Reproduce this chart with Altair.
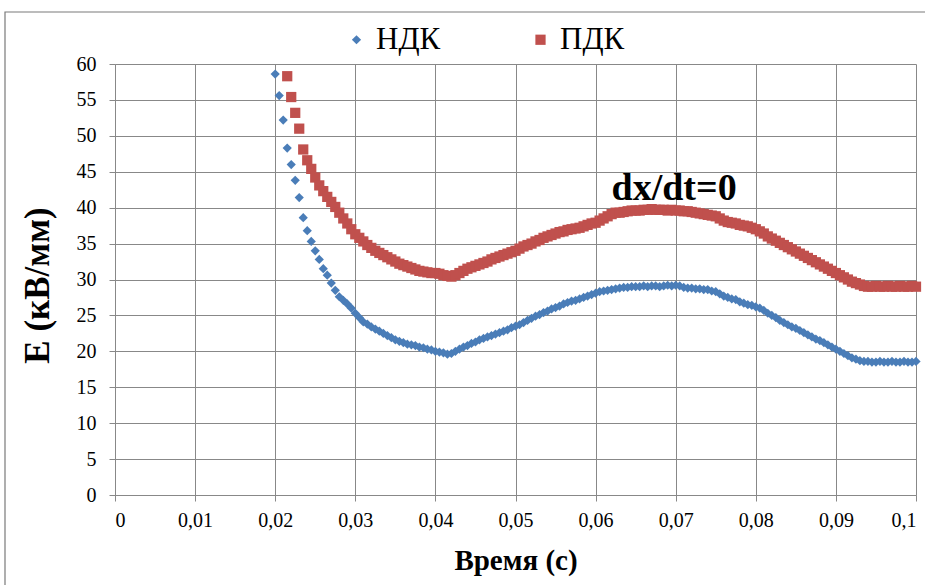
import altair as alt
import numpy as np
import pandas as pd

# Sampling times, s (0.5 ms step)
t_ndk = np.round(np.arange(0.0200, 0.10001, 0.0005), 4)
t_pdk = np.round(np.arange(0.0215, 0.10001, 0.0005), 4)

# Field strength E, kV/mm
e_ndk = [
    58.6, 55.6, 52.2, 48.3, 46.0, 43.8, 41.4, 38.6, 36.8, 35.3,
    34.0, 32.8, 31.5, 30.6, 29.5, 28.5, 27.6, 27.1, 26.6, 26.0,
    25.3, 24.7, 24.1, 23.8, 23.4, 23.1, 22.8, 22.5, 22.2, 21.9,
    21.6, 21.4, 21.2, 21.0, 20.9, 20.8, 20.6, 20.5, 20.3, 20.2,
    20.0, 19.9, 19.8, 19.6, 19.7, 20.0, 20.3, 20.6, 20.8, 21.1,
    21.3, 21.6, 21.8, 22.0, 22.2, 22.4, 22.6, 22.8, 23.0, 23.3,
    23.5, 23.7, 24.0, 24.3, 24.6, 24.9, 25.1, 25.4, 25.6, 25.9,
    26.1, 26.3, 26.6, 26.8, 27.0, 27.1, 27.3, 27.5, 27.7, 27.9,
    28.1, 28.3, 28.4, 28.5, 28.6, 28.7, 28.8, 28.9, 28.9, 29.0,
    29.0, 29.0, 29.1, 29.0, 29.1, 29.1, 29.0, 29.1, 29.2, 29.1,
    29.2, 29.1, 28.9, 28.8, 28.8, 28.7, 28.7, 28.6, 28.6, 28.4,
    28.3, 28.0, 27.7, 27.5, 27.3, 27.2, 26.9, 26.7, 26.5, 26.4,
    26.2, 26.0, 25.7, 25.3, 25.0, 24.7, 24.3, 24.0, 23.7, 23.4,
    23.2, 22.9, 22.6, 22.3, 22.0, 21.7, 21.5, 21.2, 20.9, 20.6,
    20.3, 20.0, 19.7, 19.4, 19.1, 18.9, 18.7, 18.6, 18.6, 18.5,
    18.5, 18.6, 18.5, 18.5, 18.6, 18.5, 18.5, 18.6, 18.5, 18.5,
    18.6,
]
e_pdk = [
    58.3, 55.4, 53.2, 51.0, 48.1, 46.6, 45.4, 44.2, 43.1, 42.3,
    41.5, 40.8, 40.1, 39.3, 38.5, 37.8, 37.0, 36.3, 35.8, 35.3,
    34.8, 34.4, 34.0, 33.7, 33.4, 33.1, 32.8, 32.5, 32.2, 32.0,
    31.8, 31.6, 31.4, 31.2, 31.1, 31.0, 30.9, 30.9, 30.8, 30.6,
    30.5, 30.4, 30.6, 30.9, 31.2, 31.5, 31.7, 31.9, 32.1, 32.3,
    32.5, 32.8, 33.0, 33.2, 33.4, 33.6, 33.8, 34.0, 34.3, 34.6,
    34.8, 35.0, 35.3, 35.5, 35.8, 36.0, 36.2, 36.4, 36.6, 36.7,
    36.9, 37.0, 37.1, 37.2, 37.4, 37.6, 37.8, 37.9, 38.2, 38.5,
    38.8, 39.1, 39.3, 39.3, 39.4, 39.5, 39.6, 39.6, 39.6, 39.7,
    39.7, 39.8, 39.7, 39.7, 39.7, 39.6, 39.7, 39.6, 39.6, 39.5,
    39.5, 39.4, 39.3, 39.2, 39.1, 39.0, 38.9, 38.8, 38.5, 38.2,
    38.0, 37.9, 37.8, 37.6, 37.5, 37.4, 37.2, 37.0, 36.7, 36.4,
    36.0, 35.7, 35.4, 35.1, 34.8, 34.5, 34.2, 33.9, 33.6, 33.3,
    33.0, 32.7, 32.4, 32.1, 31.8, 31.5, 31.2, 30.9, 30.6, 30.3,
    30.0, 29.7, 29.5, 29.3, 29.1, 29.0, 29.0, 29.1, 29.0, 29.0,
    29.1, 29.0, 29.0, 29.1, 29.0, 29.0, 29.1, 29.0,
]
assert len(t_ndk) == len(e_ndk) and len(t_pdk) == len(e_pdk)

series_names = ["НДК", "ПДК"]
series_colors = ["#4A7DB8", "#C0504D"]
series_shapes = ["diamond", "square"]
series_sizes = [85, 105]

x_ticks = [0, 0.01, 0.02, 0.03, 0.04, 0.05, 0.06, 0.07, 0.08, 0.09, 0.1]
y_ticks = [0, 5, 10, 15, 20, 25, 30, 35, 40, 45, 50, 55, 60]

note_t = [0.0698]
note_e = [41.0]
note_text = ["dx/dt=0"]

df = pd.concat([
    pd.DataFrame({"t": t_ndk, "E": e_ndk, "series": series_names[0]}),
    pd.DataFrame({"t": t_pdk, "E": e_pdk, "series": series_names[1]}),
])

W, H = 801, 431
FONT = "Times New Roman"
GRID = "#888888"

x_enc = alt.X(
    "t:Q",
    scale=alt.Scale(domain=[0, 0.1], nice=False, zero=False),
    axis=alt.Axis(
        values=x_ticks, title="Время (с)", titleFontSize=29,
        labelExpr="replace(format(datum.value, '.2~f'), '.', ',')",
        labelPadding=9, labelOverlap=False, titleY=65, titleBaseline="middle",
    ),
)
y_enc = alt.Y(
    "E:Q",
    scale=alt.Scale(domain=[0, 60], nice=False),
    axis=alt.Axis(
        values=y_ticks, tickCount=13, title="E (кВ/мм)", titleFontSize=35,
        labelPadding=13, labelOverlap=False,
        titleX=-78, titleY=221, titleBaseline="middle", titleAlign="center",
    ),
)

legend = alt.Legend(
    title=None, orient="none", direction="horizontal",
    legendX=226, legendY=-40,
    labelFont=FONT, labelFontSize=31, labelColor="black",
    symbolSize=110, symbolStrokeWidth=0, columnPadding=84, labelOffset=4,
)

points = alt.Chart(df).mark_point(filled=True, opacity=1, strokeWidth=0).encode(
    x=x_enc,
    y=y_enc,
    color=alt.Color("series:N", scale=alt.Scale(domain=series_names, range=series_colors), legend=legend),
    shape=alt.Shape("series:N", scale=alt.Scale(domain=series_names, range=series_shapes), legend=legend),
    size=alt.Size("series:N", scale=alt.Scale(domain=series_names, range=series_sizes), legend=None),
    order=alt.Order("series:N"),
)

note = alt.Chart(pd.DataFrame({"t": note_t, "E": note_e, "label": note_text})).mark_text(
    font=FONT, fontSize=38, fontWeight="bold", color="black",
    align="center", baseline="alphabetic",
).encode(x=x_enc, y=y_enc, text="label:N")

frame = alt.Chart(pd.DataFrame({"k": [0]})).mark_rect(
    fillOpacity=0, stroke="#7a7a7a", strokeWidth=1.2,
).encode(
    x=alt.value(-110), x2=alt.value(W + 40),
    y=alt.value(-52), y2=alt.value(H + 120),
)

chart = alt.layer(points, note, frame).properties(
    width=W, height=H,
    autosize=alt.AutoSizeParams(type="none"),
    padding={"left": 115, "top": 64, "right": 9, "bottom": 90},
    background="white",
).configure_view(
    stroke="transparent",
).configure_axis(
    grid=True, gridColor=GRID, gridOpacity=1, gridWidth=1,
    domainColor=GRID, tickColor=GRID, tickSize=6,
    labelFont=FONT, labelFontSize=20, labelColor="black",
    titleFont=FONT, titleFontWeight="bold", titleColor="black",
)

chart.save("out.html", embed_options={"renderer": "svg", "actions": False})
